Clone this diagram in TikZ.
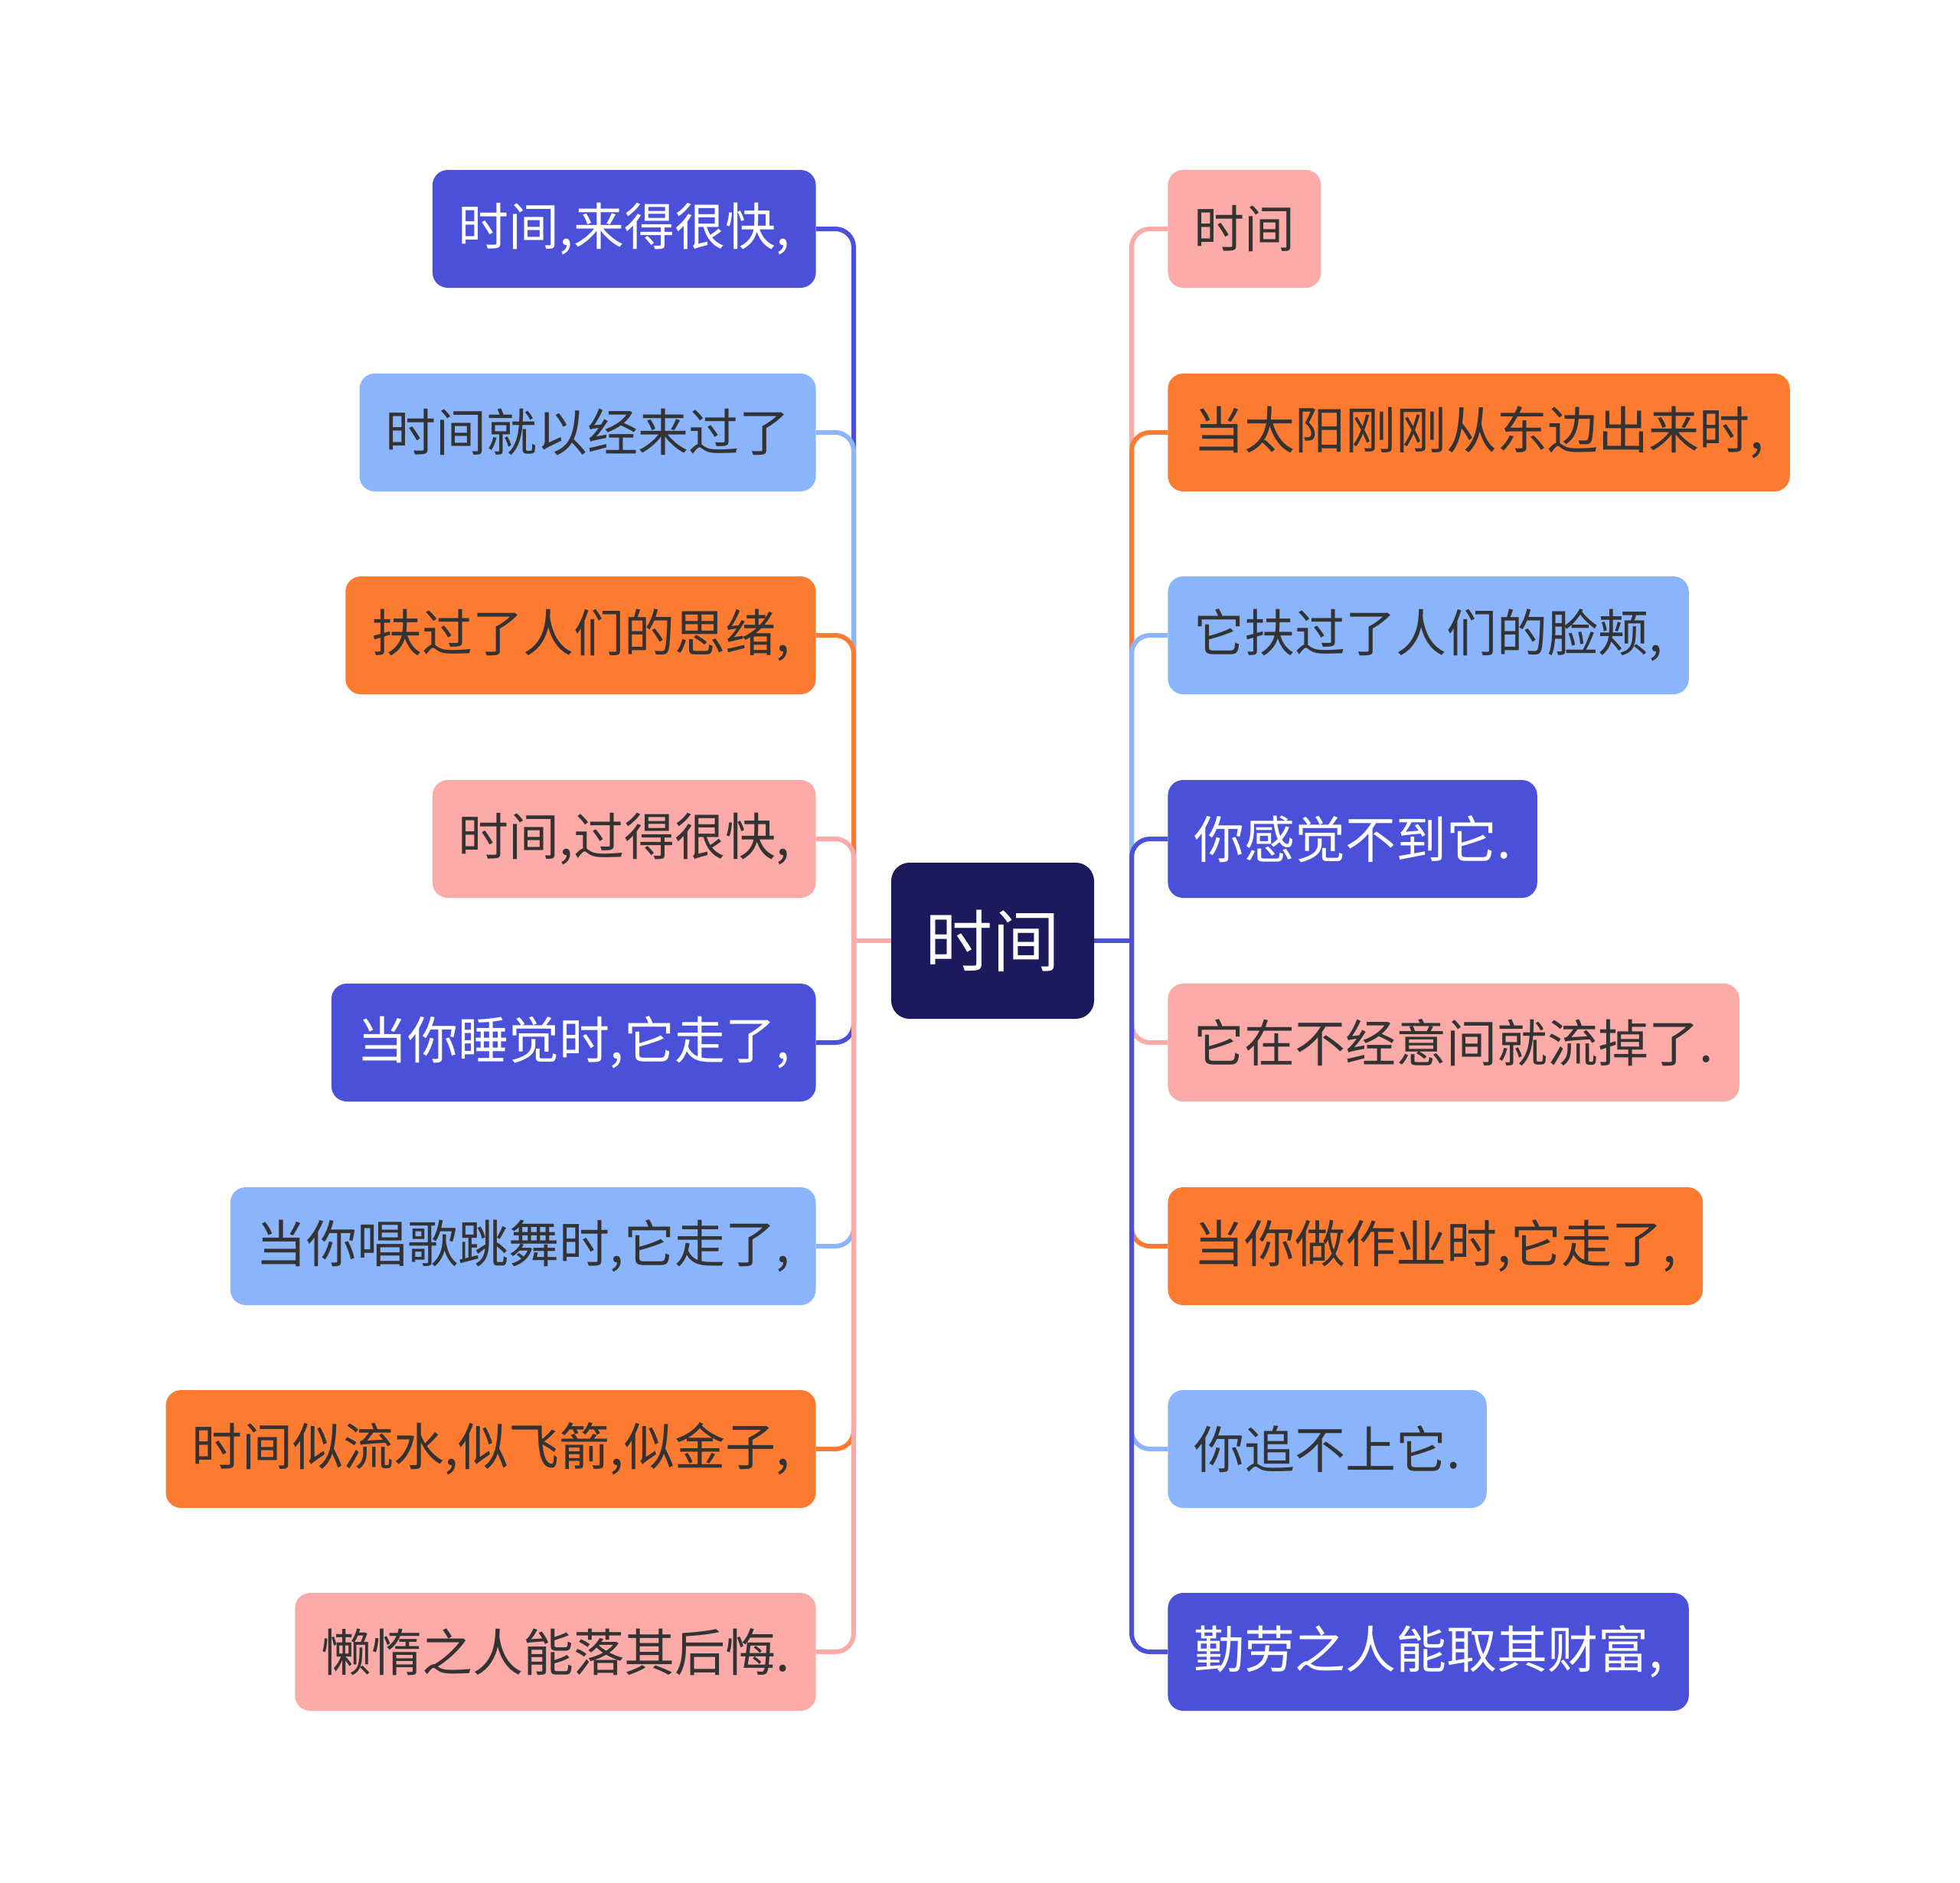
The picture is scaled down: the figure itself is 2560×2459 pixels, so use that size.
\documentclass[tikz,border=0pt]{standalone}
\usepackage{fontspec}
\newfontfamily\cjk{Noto Sans CJK SC}
\definecolor{cblue}{HTML}{4A51D8}
\definecolor{clight}{HTML}{8AB4FC}
\definecolor{corange}{HTML}{FD7A31}
\definecolor{cpink}{HTML}{FCAAA8}
\definecolor{cnavy}{HTML}{1C1A5C}
\definecolor{ctext}{HTML}{333333}
\tikzset{
  box/.style={rounded corners=10pt, minimum height=77pt, inner xsep=17pt, inner ysep=0pt,
    font=\cjk\fontsize{33pt}{36pt}\selectfont, text=ctext},
  bluebox/.style={box, fill=cblue, text=white},
  lightbox/.style={box, fill=clight},
  orangebox/.style={box, fill=corange},
  pinkbox/.style={box, fill=cpink},
  lnode/.style={anchor=east},
  rnode/.style={anchor=west},
  link/.style={line width=3pt, rounded corners=12pt},
}
\begin{document}
\begin{tikzpicture}[x=0.5pt,y=-0.5pt]
\useasboundingbox (0,0) rectangle (2560,2459);
% central
\node[rounded corners=12pt, fill=cnavy, text=white, minimum width=132.5pt, minimum height=102pt,
  font=\cjk\fontsize{44pt}{48pt}\selectfont] (c) at (1296.5,1229) {时间};
% left nodes
\node[bluebox, lnode]   (l1) at (1066,299)  {时间,来得很快,};
\node[lightbox, lnode]  (l2) at (1066,565)  {时间就以经来过了};
\node[orangebox, lnode] (l3) at (1066,830)  {扶过了人们的思绪,};
\node[pinkbox, lnode]   (l4) at (1066,1096) {时间,过得很快,};
\node[bluebox, lnode]   (l5) at (1066,1362) {当你睡觉时,它走了,};
\node[lightbox, lnode]  (l6) at (1066,1628) {当你唱歌跳舞时,它走了,};
\node[orangebox, lnode] (l7) at (1066,1893) {时间似流水,似飞箭,似金子,};
\node[pinkbox, lnode]   (l8) at (1066,2158) {懒惰之人能落其后悔.};
% right nodes
\node[pinkbox, rnode]   (r1) at (1525,299)  {时间};
\node[orangebox, rnode] (r2) at (1525,565)  {当太阳刚刚从东边出来时,};
\node[lightbox, rnode]  (r3) at (1525,830)  {它扶过了人们的脸颊,};
\node[bluebox, rnode]   (r4) at (1525,1096) {你感觉不到它.};
\node[pinkbox, rnode]   (r5) at (1525,1362) {它在不经意间就流掉了.};
\node[orangebox, rnode] (r6) at (1525,1628) {当你做作业时,它走了,};
\node[lightbox, rnode]  (r7) at (1525,1893) {你追不上它.};
\node[bluebox, rnode]   (r8) at (1525,2158) {勤劳之人能取其财富,};
% trunk coordinates
\coordinate (lt) at (1115,1229);
\coordinate (rt) at (1478,1229);
% left connectors
\foreach \n/\col in {l1/cblue,l2/clight,l3/corange,l4/cpink,l5/cblue,l6/clight,l7/corange,l8/cpink}{
  \draw[link, draw=\col] (lt) -- (lt |- \n.east) -- (\n.east);
}
\draw[line width=3pt, draw=cpink] (c.west) -- (lt);
% right connectors
\foreach \n/\col in {r1/cpink,r2/corange,r3/clight,r4/cblue,r5/cpink,r6/corange,r7/clight,r8/cblue}{
  \draw[link, draw=\col] (rt) -- (rt |- \n.west) -- (\n.west);
}
\draw[line width=3pt, draw=cblue] (c.east) -- (rt);
\end{tikzpicture}
\end{document}
